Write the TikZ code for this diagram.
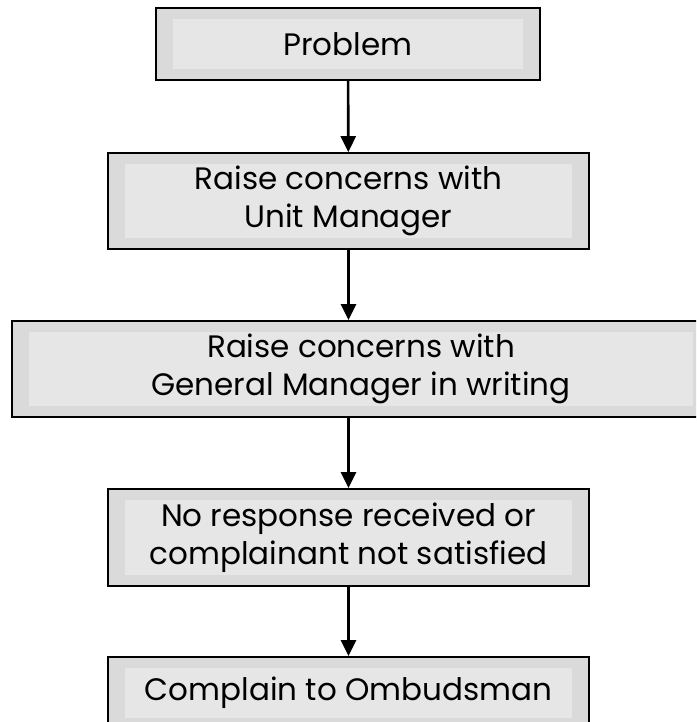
\documentclass[tikz,border=0pt]{standalone}
\usepackage{fontspec}
\setmainfont{Poppins}
\usetikzlibrary{positioning,arrows.meta}
\definecolor{boxgray}{HTML}{DADADA}
\definecolor{innergray}{HTML}{E6E6E6}
\tikzset{
  flowarrow/.style={-{Triangle[length=16pt,width=15pt]}, line width=2.6pt},
  stepbox/.style={draw, line width=1.8pt, fill=boxgray, minimum width=481pt, minimum height=96pt, align=center,
    font=\fontsize{31}{38}\selectfont,
    path picture={\fill[innergray] ([xshift=17pt,yshift=11pt]path picture bounding box.south west)
      rectangle ([xshift=-17pt,yshift=-11pt]path picture bounding box.north east);}}
}

\begin{document}
\begin{tikzpicture}[x=1pt, y=-1pt]
  \useasboundingbox (0,0) rectangle (696,722);
  \clip (0,0) rectangle (696,722);
  \node[stepbox, minimum width=384pt, minimum height=72pt] (problem) at (348,44) {Problem};
  \node[stepbox] (unitmgr) at (348.5,201) {Raise concerns with\\ Unit Manager};
  \node[stepbox, minimum width=698pt] (genmgr) at (361,369) {Raise concerns with\\ General Manager in writing};
  \node[stepbox, minimum height=97pt] (noresp) at (348.5,537.5) {No response received or\\ complainant not satisfied};
  \node[stepbox, minimum height=72pt] (ombud) at (348.5,693) {Complain to Ombudsman};
  \draw[flowarrow] (problem) -- (unitmgr);
  \draw[flowarrow] (unitmgr.south) -- (unitmgr.south |- genmgr.north);
  \draw[flowarrow] (unitmgr.south |- genmgr.south) -- (noresp.north);
  \draw[flowarrow] (noresp) -- (ombud);
\end{tikzpicture}
\end{document}
